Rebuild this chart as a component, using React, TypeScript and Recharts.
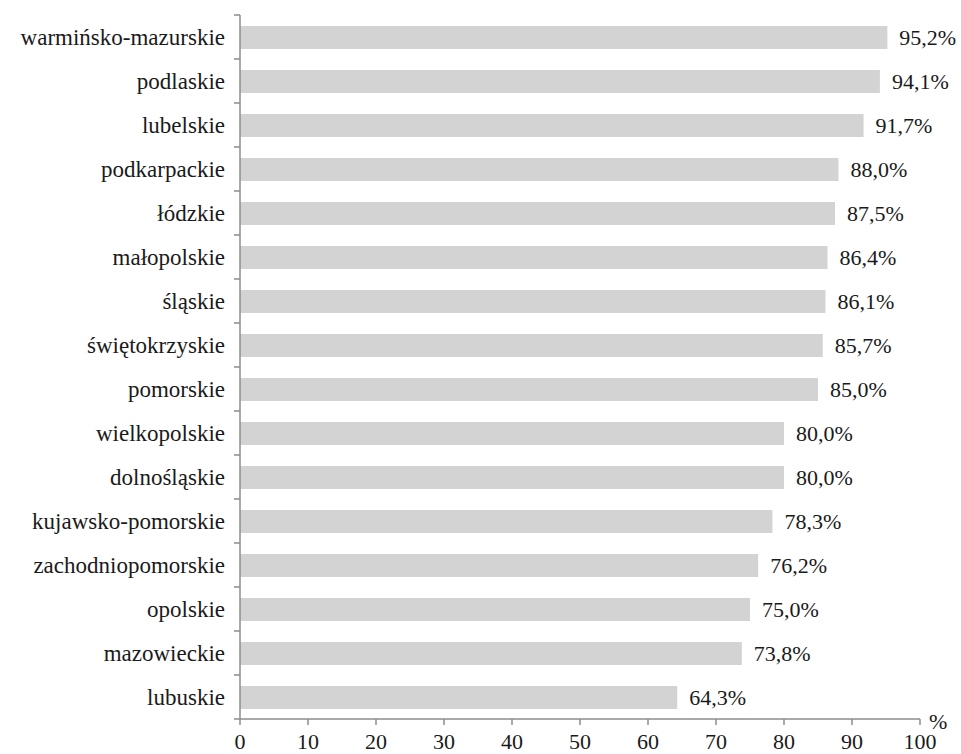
import { Bar, BarChart, LabelList, XAxis, YAxis } from "recharts";

const REGIONS = [
  "warmińsko-mazurskie",
  "podlaskie",
  "lubelskie",
  "podkarpackie",
  "łódzkie",
  "małopolskie",
  "śląskie",
  "świętokrzyskie",
  "pomorskie",
  "wielkopolskie",
  "dolnośląskie",
  "kujawsko-pomorskie",
  "zachodniopomorskie",
  "opolskie",
  "mazowieckie",
  "lubuskie",
];
const SHARES = [95.2, 94.1, 91.7, 88.0, 87.5, 86.4, 86.1, 85.7, 85.0, 80.0, 80.0, 78.3, 76.2, 75.0, 73.8, 64.3];
const X_TICKS = [0, 10, 20, 30, 40, 50, 60, 70, 80, 90, 100];

const FONT = "Liberation Serif, DejaVu Serif, serif";
const LABEL_SIZE = 23;
const NUM_SIZE = 22;
const AXIS_COLOR = "#8c8c8c";
const TEXT = "#1a1a1a";
const W = 961;
const H = 754;
const Y_AXIS_W = 240;
const MARGIN = { top: 15, right: 41, bottom: 0, left: 0 };
const X_AXIS_H = 35;
const BAND = (H - MARGIN.top - MARGIN.bottom - X_AXIS_H) / REGIONS.length;

const data = REGIONS.map((name, i) => ({ name, value: SHARES[i] }));

// category label at band centre, tick mark on the band boundary (Excel style)
function RegionTick(props: any) {
  const { y, payload, index } = props;
  const ax = Y_AXIS_W;
  return (
    <g>
      <line x1={ax - 6} x2={ax} y1={y - BAND / 2} y2={y - BAND / 2} stroke={AXIS_COLOR} strokeWidth={1.5} />
      {index === REGIONS.length - 1 ? (
        <line x1={ax - 6} x2={ax} y1={y + BAND / 2} y2={y + BAND / 2} stroke={AXIS_COLOR} strokeWidth={1.5} />
      ) : null}
      <text
        x={ax - 15}
        y={y}
        dy="0.35em"
        textAnchor="end"
        fill={TEXT}
        style={{ fontFamily: FONT, fontSize: LABEL_SIZE }}
      >
        {payload.value}
      </text>
    </g>
  );
}

export default function App() {
  return (
    <div style={{ position: "absolute", left: 0, top: 0, background: "#fff", fontFamily: FONT }}>
      <BarChart layout="vertical" width={W} height={H} data={data} margin={MARGIN} barSize={23}>
        <XAxis
          type="number"
          domain={[0, 100]}
          ticks={X_TICKS}
          height={X_AXIS_H}
          stroke={AXIS_COLOR}
          strokeWidth={1.5}
          tickSize={6}
          tickMargin={8}
          tick={{ fill: TEXT, fontSize: NUM_SIZE, style: { fontFamily: FONT } }}
          label={{
            value: "%",
            position: "right",
            dx: 4,
            dy: -15,
            fill: TEXT,
            fontSize: NUM_SIZE,
            style: { fontFamily: FONT },
          }}
        />
        <YAxis
          type="category"
          dataKey="name"
          width={Y_AXIS_W}
          stroke={AXIS_COLOR}
          strokeWidth={1.5}
          tickLine={false}
          interval={0}
          tick={<RegionTick />}
        />
        <Bar dataKey="value" fill="#d3d3d3" isAnimationActive={false}>
          <LabelList
            dataKey="value"
            position="right"
            offset={12}
            fill={TEXT}
            fontSize={NUM_SIZE}
            style={{ fontFamily: FONT }}
            formatter={(v: any) => `${Number(v).toFixed(1).replace(".", ",")}%`}
          />
        </Bar>
      </BarChart>
    </div>
  );
}
